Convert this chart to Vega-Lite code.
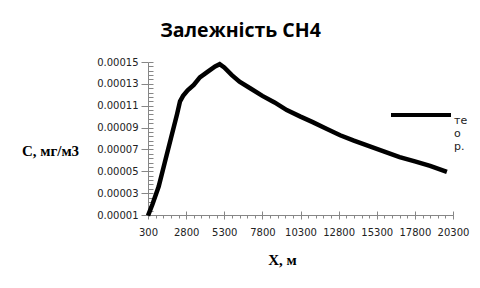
{
  "$schema": "https://vega.github.io/schema/vega-lite/v6.json",
  "autosize": {"type": "none"},
  "padding": {"left": 148, "top": 62, "right": 27, "bottom": 73},
  "width": 305,
  "height": 153,
  "background": "white",
  "title": {"text": "Залежність CH4", "font": "Open Sans", "fontSize": 19.5, "fontWeight": "bold", "color": "#000", "anchor": "middle", "frame": "group", "dx": -60, "offset": 14},
  "config": {"view": {"stroke": null}},
  "data": {"values": [
    {"X": 300, "C": 0.0000095, "s": "теор."},
    {"X": 600, "C": 0.000020, "s": "теор."},
    {"X": 1000, "C": 0.000036, "s": "теор."},
    {"X": 1400, "C": 0.000058, "s": "теор."},
    {"X": 1800, "C": 0.000080, "s": "теор."},
    {"X": 2200, "C": 0.000102, "s": "теор."},
    {"X": 2400, "C": 0.000114, "s": "теор."},
    {"X": 2600, "C": 0.000119, "s": "теор."},
    {"X": 2900, "C": 0.000124, "s": "теор."},
    {"X": 3300, "C": 0.000129, "s": "теор."},
    {"X": 3700, "C": 0.000136, "s": "теор."},
    {"X": 4200, "C": 0.000141, "s": "теор."},
    {"X": 4700, "C": 0.000146, "s": "теор."},
    {"X": 5000, "C": 0.000148, "s": "теор."},
    {"X": 5300, "C": 0.000145, "s": "теор."},
    {"X": 5800, "C": 0.000138, "s": "теор."},
    {"X": 6300, "C": 0.000132, "s": "теор."},
    {"X": 7000, "C": 0.000126, "s": "теор."},
    {"X": 7800, "C": 0.000119, "s": "теор."},
    {"X": 8600, "C": 0.000113, "s": "теор."},
    {"X": 9400, "C": 0.000106, "s": "теор."},
    {"X": 10300, "C": 0.000100, "s": "теор."},
    {"X": 11100, "C": 0.000095, "s": "теор."},
    {"X": 12000, "C": 0.000089, "s": "теор."},
    {"X": 12900, "C": 0.000083, "s": "теор."},
    {"X": 13800, "C": 0.000078, "s": "теор."},
    {"X": 14800, "C": 0.000073, "s": "теор."},
    {"X": 15800, "C": 0.000068, "s": "теор."},
    {"X": 16800, "C": 0.000063, "s": "теор."},
    {"X": 17800, "C": 0.000059, "s": "теор."},
    {"X": 18800, "C": 0.000055, "s": "теор."},
    {"X": 19900, "C": 0.0000495, "s": "теор."}
  ]},
  "resolve": {"axis": {"x": "independent", "y": "independent"}},
  "layer": [
    {
      "mark": {"type": "line", "opacity": 0, "color": "black"},
      "encoding": {
        "x": {"field": "X", "type": "quantitative", "scale": {"domain": [300, 20300], "nice": false, "zero": false},
          "axis": {"orient": "bottom", "values": [300,800,1300,1800,2300,2800,3300,3800,4300,4800,5300,5800,6300,6800,7300,7800,8300,8800,9300,9800,10300,10800,11300,11800,12300,12800,13300,13800,14300,14800,15300,15800,16300,16800,17300,17800,18300,18800,19300,19800,20300], "tickSize": 3, "tickColor": "#868686", "labels": false, "domain": false, "grid": false, "title": null}},
        "y": {"field": "C", "type": "quantitative", "scale": {"domain": [0.00001, 0.00015], "nice": false, "zero": false},
          "axis": {"orient": "left", "values": [0.00001,0.000014,0.000018,0.000022,0.000026,0.00003,0.000034,0.000038,0.000042,0.000046,0.00005,0.000054,0.000058,0.000062,0.000066,0.00007,0.000074,0.000078,0.000082,0.000086,0.00009,0.000094,0.000098,0.000102,0.000106,0.00011,0.000114,0.000118,0.000122,0.000126,0.00013,0.000134,0.000138,0.000142,0.000146,0.00015], "tickSize": -5, "tickColor": "#868686", "labels": false, "domain": false, "grid": false, "title": null}}
      }
    },
    {
      "mark": {"type": "line", "opacity": 0, "color": "black"},
      "encoding": {
        "x": {"field": "X", "type": "quantitative", "scale": {"domain": [300, 20300], "nice": false, "zero": false},
          "axis": {"orient": "bottom", "values": [300,2800,5300,7800,10300,12800,15300,17800,20300], "tickSize": -4, "tickColor": "#868686", "labels": false, "domain": false, "grid": false, "title": null}},
        "y": {"field": "C", "type": "quantitative", "scale": {"domain": [0.00001, 0.00015], "nice": false, "zero": false}, "axis": null}
      }
    },
    {
      "mark": {"type": "line", "strokeWidth": 4.5, "clip": false},
      "encoding": {
        "x": {"field": "X", "type": "quantitative", "scale": {"domain": [300, 20300], "nice": false, "zero": false},
          "axis": {"orient": "bottom", "values": [300,2800,5300,7800,10300,12800,15300,17800,20300], "format": "d", "tickSize": 4, "tickColor": "#868686", "domainColor": "#868686", "grid": false,
            "labelFont": "DejaVu Sans", "labelFontSize": 10, "labelColor": "#222", "labelPadding": 8, "labelFlush": false, "labelOverlap": false,
            "title": "X, м", "titleFont": "Liberation Serif", "titleFontSize": 15, "titleFontWeight": "bold", "titleColor": "#000", "titleX": 134, "titleY": 44, "titleAlign": "center", "titleBaseline": "middle", "titleAnchor": null}},
        "y": {"field": "C", "type": "quantitative", "scale": {"domain": [0.00001, 0.00015], "nice": false, "zero": false},
          "axis": {"orient": "left", "values": [0.00001,0.00003,0.00005,0.00007,0.00009,0.00011,0.00013,0.00015], "format": ".5f", "tickSize": 7, "tickColor": "#868686", "domainColor": "#868686", "grid": false,
            "labelFont": "DejaVu Sans", "labelFontSize": 10, "labelColor": "#222", "labelPadding": 3, "labelFlush": false, "labelOverlap": false,
            "title": "C, мг/м3", "titleFont": "Liberation Serif", "titleFontSize": 15, "titleFontWeight": "bold", "titleColor": "#000", "titleAngle": 0, "titleX": -98, "titleY": 88, "titleAlign": "center", "titleBaseline": "middle", "titleAnchor": null}},
        "color": {"field": "s", "type": "nominal", "scale": {"range": ["black"]},
          "legend": {"orient": "none", "legendX": 241, "legendY": 21, "title": null, "symbolType": "stroke", "symbolSize": 3600, "symbolStrokeWidth": 4, "symbolStrokeColor": "black", "labelFont": "DejaVu Sans", "labelFontSize": 11, "labelColor": "#222", "labelOffset": 1, "labelBaseline": "top", "padding": 0, "labelExpr": "['те', 'о', 'р.']"}}
      }
    }
  ]
}
